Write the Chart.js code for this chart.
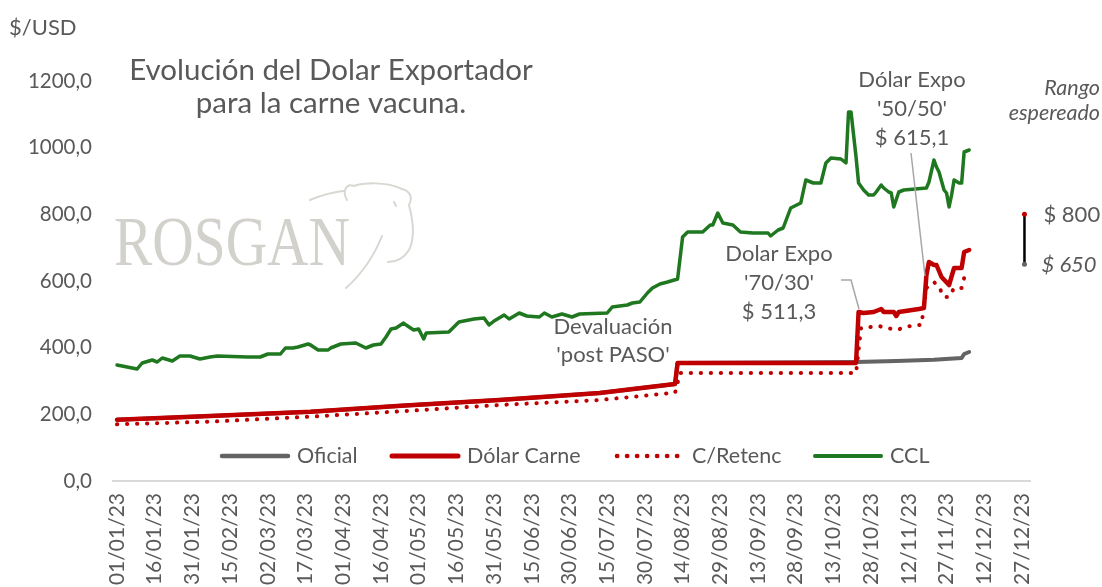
<!DOCTYPE html>
<html>
<head>
<meta charset="utf-8">
<script src="https://cdn.jsdelivr.net/npm/chart.js@4.4.1/dist/chart.umd.min.js"></script>
<style>
  html, body { margin: 0; padding: 0; background: #ffffff; }
  #wrap { width: 1102px; height: 587px; position: relative; }
</style>
</head>
<body>
<div id="wrap"><canvas id="c" width="1102" height="587"></canvas></div>
<script>
// Day numbers count from 01/01/23 (= day 0).
const xTickDays = [0,15,30,45,60,75,90,105,120,135,150,165,180,195,210,225,240,255,270,285,300,315,330,345,360];
const xTickLabels = ['01/01/23','16/01/23','31/01/23','15/02/23','02/03/23','17/03/23','01/04/23','16/04/23','01/05/23','16/05/23','31/05/23','15/06/23','30/06/23','15/07/23','30/07/23','14/08/23','29/08/23','13/09/23','28/09/23','13/10/23','28/10/23','12/11/23','27/11/23','12/12/23','27/12/23'];
const yTicks = [0,200,400,600,800,1000,1200];

const seriesNames = ['Oficial','Dólar Carne','C/Retenc','CCL'];

const oficialDays   = [0,37,77,113,152,192,222,223,294,310,325,336,337,339];
const oficialValues = [184,195,208,226,243,264,291,354,357,360,364,369,381,387];

const carneDays   = [0,37,77,113,152,192,222,223,294,295,297,301,304,305,309,310,311,319,321,322,323,325,326,328,331,333,336,337,339];
const carneValues = [184,195,208,226,243,264,291,354,354,507,504,507,516,507,507,495,507,516,519,618,657,648,648,612,588,639,639,687,693];

const retencDays   = [0,37,77,117,152,192,222,224,294,296,303,310,317,320,322,325,327,329,331,333,336,337,339];
const retencValues = [170,178,193,211,228,243,265,324,324,459,465,453,468,468,579,597,582,552,552,579,579,609,627];

const cclDays   = [0,8,10,14,16,18,22,25,29,33,37,40,52,57,60,65,67,70,72,76,77,80,84,85,89,95,99,102,105,107,109,111,114,115,118,120,122,123,132,136,142,146,148,150,154,156,160,163,168,170,173,177,181,184,195,197,203,205,208,211,213,216,219,223,225,227,233,236,237,239,241,245,248,253,259,260,263,265,268,272,274,277,280,282,284,288,290,291,292,294,295,297,299,301,302,304,305,307,308,309,311,313,322,323,325,326,327,329,330,331,332,333,335,336,337,339];
const cclValues = [348,336,354,363,357,369,360,375,375,366,372,375,372,372,381,381,399,399,402,411,408,393,393,399,411,414,399,408,411,432,456,459,474,468,453,456,426,444,447,477,486,489,468,480,498,486,504,495,492,504,492,501,492,501,504,522,528,534,537,564,579,591,597,606,732,747,747,768,768,804,774,768,747,744,744,735,753,759,819,834,903,894,894,954,969,966,954,1107,1107,972,894,873,858,858,867,888,879,867,864,822,867,873,879,897,963,942,927,873,864,822,858,903,894,894,987,993];

// Expected range marker ("Rango espereado")
const rangoDays   = [361,361];
const rangoValues = [800,650];
const rangoLabels = ['$ 800','$ 650'];

const annotations = {
  paso: ['Devaluación', "'post PASO'"],
  expo70: ['Dolar Expo', "'70/30'", '$ 511,3'],
  expo50: ['Dólar Expo', "'50/50'", '$ 615,1']
};

const FONT = 'Lato, "Open Sans", sans-serif';
const TXT = '#595959';
const RED = '#c00000';
const GREEN = '#1f771f';
const GRAY = '#646464';

function pts(days, vals) { return days.map((d, i) => ({ x: d, y: vals[i] })); }

const watermark = {
  id: 'watermark',
  beforeDatasetsDraw(chart) {
    const ctx = chart.ctx;
    ctx.save();
    ctx.fillStyle = '#d3d1cb';
    ctx.font = '70px "Liberation Serif", "DejaVu Serif", serif';
    ctx.textBaseline = 'alphabetic';
    ctx.translate(114, 265);
    ctx.scale(0.82, 1);
    ctx.fillText('ROSGAN', 0, 0);
    ctx.restore();
    // cow outline
    ctx.save();
    ctx.strokeStyle = '#d9d7d1';
    ctx.lineWidth = 2;
    ctx.lineCap = 'round';
    ctx.beginPath();
    ctx.moveTo(310, 200);
    ctx.bezierCurveTo(322, 195, 334, 192, 343, 191);
    ctx.moveTo(347, 200);
    ctx.bezierCurveTo(342, 191, 346, 183, 354, 186);
    ctx.bezierCurveTo(362, 183, 386, 181, 402, 189);
    ctx.bezierCurveTo(410, 191, 413, 197, 409, 205);
    ctx.bezierCurveTo(413, 220, 415, 238, 409, 250);
    ctx.bezierCurveTo(404, 258, 396, 262, 388, 262);
    ctx.moveTo(382, 236);
    ctx.bezierCurveTo(374, 256, 364, 272, 346, 288);
    ctx.moveTo(394, 202);
    ctx.lineTo(396, 206);
    ctx.stroke();
    ctx.restore();
  }
};

const customLegend = {
  id: 'customLegend',
  afterDraw(chart) {
    const ctx = chart.ctx;
    const y = 456;
    const starts = [222, 392, 617, 815];
    const len = 66;
    ctx.save();
    ctx.font = '21.5px ' + FONT;
    ctx.textBaseline = 'middle';
    ctx.textAlign = 'left';
    for (let i = 0; i < 4; i++) {
      const ds = chart.data.datasets[i];
      const x0 = starts[i];
      ctx.beginPath();
      ctx.strokeStyle = ds.borderColor;
      ctx.lineWidth = ds.borderWidth + 0.5;
      ctx.lineCap = ds.borderCapStyle || 'round';
      ctx.setLineDash(ds.borderDash || []);
      ctx.moveTo(x0, y);
      ctx.lineTo(x0 + len, y);
      ctx.stroke();
      ctx.setLineDash([]);
      ctx.fillStyle = TXT;
      ctx.fillText(ds.label, x0 + len + 9, y);
    }
    ctx.restore();
  }
};

const texts = {
  id: 'texts',
  afterDraw(chart) {
    const ctx = chart.ctx;
    ctx.save();
    ctx.fillStyle = TXT;
    ctx.textBaseline = 'middle';
    // unit
    ctx.font = '22px ' + FONT;
    ctx.textAlign = 'left';
    ctx.fillText('$/USD', 9, 28);
    // title
    ctx.font = '29.5px ' + FONT;
    ctx.textAlign = 'center';
    ctx.fillText('Evolución del Dolar Exportador', 331, 70);
    ctx.fillText('para la carne vacuna.', 331, 103);
    // annotations
    ctx.font = '22px ' + FONT;
    annotations.paso.forEach((t, i) => ctx.fillText(t, 613, 327 + i * 28));
    annotations.expo70.forEach((t, i) => ctx.fillText(t, 779, 254 + i * 29));
    annotations.expo50.forEach((t, i) => ctx.fillText(t, 912, 80 + i * 29));
    // leader lines
    ctx.strokeStyle = '#a6a6a6';
    ctx.lineWidth = 1.5;
    ctx.beginPath();
    ctx.moveTo(841, 280); ctx.lineTo(851, 280); ctx.lineTo(859, 309);
    ctx.moveTo(911, 153); ctx.lineTo(925, 276);
    ctx.stroke();
    // rango
    ctx.font = 'italic 21.5px ' + FONT;
    ctx.textAlign = 'right';
    ctx.fillText('Rango', 1100, 88);
    ctx.fillText('espereado', 1100, 113);
    const ys = chart.scales.y;
    const xs = chart.scales.x;
    ctx.textAlign = 'left';
    ctx.font = '22px ' + FONT;
    ctx.fillText(rangoLabels[0], xs.getPixelForValue(rangoDays[0]) + 19, ys.getPixelForValue(rangoValues[0]) + 1);
    ctx.font = 'italic 22px ' + FONT;
    ctx.fillText(rangoLabels[1], xs.getPixelForValue(rangoDays[1]) + 17, ys.getPixelForValue(rangoValues[1]) + 1);
    ctx.restore();
  }
};

new Chart(document.getElementById('c'), {
  type: 'line',
  data: {
    datasets: [
      { label: seriesNames[0], data: pts(oficialDays, oficialValues), borderColor: GRAY, borderWidth: 4, order: 5, borderCapStyle: 'round' },
      { label: seriesNames[1], data: pts(carneDays, carneValues), borderColor: RED, borderWidth: 4.5, order: 2, borderCapStyle: 'round' },
      { label: seriesNames[2], data: pts(retencDays, retencValues), borderColor: RED, borderWidth: 4, borderDash: [0.3, 9.7], borderCapStyle: 'round', order: 3 },
      { label: seriesNames[3], data: pts(cclDays, cclValues), borderColor: GREEN, borderWidth: 3.5, order: 1, borderCapStyle: 'round' },
      { label: 'Rango', data: pts(rangoDays, rangoValues), borderColor: '#000000', borderWidth: 2.5, order: 0,
        pointRadius: 2.5, pointBackgroundColor: [RED, GRAY], pointBorderColor: [RED, GRAY], pointBorderWidth: 0 }
    ]
  },
  options: {
    responsive: false,
    animation: false,
    devicePixelRatio: 1,
    layout: { padding: { top: 81, right: 72, left: 0, bottom: 0 } },
    elements: { point: { radius: 0 }, line: { tension: 0, borderJoinStyle: 'round' } },
    plugins: { legend: { display: false }, tooltip: { enabled: false } },
    scales: {
      x: {
        type: 'linear', min: -1.6, max: 363.2,
        afterBuildTicks: (s) => { s.ticks = xTickDays.map(v => ({ value: v })); },
        afterFit: (s) => { s.height = 106; },
        grid: { display: false, drawTicks: false },
        border: { display: true, color: '#d9d9d9', width: 2 },
        ticks: {
          autoSkip: false, minRotation: 90, maxRotation: 90, padding: 12,
          color: TXT, font: { family: FONT, size: 21 },
          callback: (v) => { const i = xTickDays.indexOf(v); return i >= 0 ? xTickLabels[i] : ''; }
        }
      },
      y: {
        min: 0, max: 1200,
        afterBuildTicks: (s) => { s.ticks = yTicks.map(v => ({ value: v })); },
        afterFit: (s) => { s.width = 113; },
        grid: { display: false, drawTicks: false },
        border: { display: false },
        ticks: {
          padding: 21, color: TXT, font: { family: FONT, size: 20.5 },
          callback: (v) => v.toFixed(1).replace('.', ',')
        }
      }
    }
  },
  plugins: [watermark, customLegend, texts]
});
</script>
</body>
</html>
